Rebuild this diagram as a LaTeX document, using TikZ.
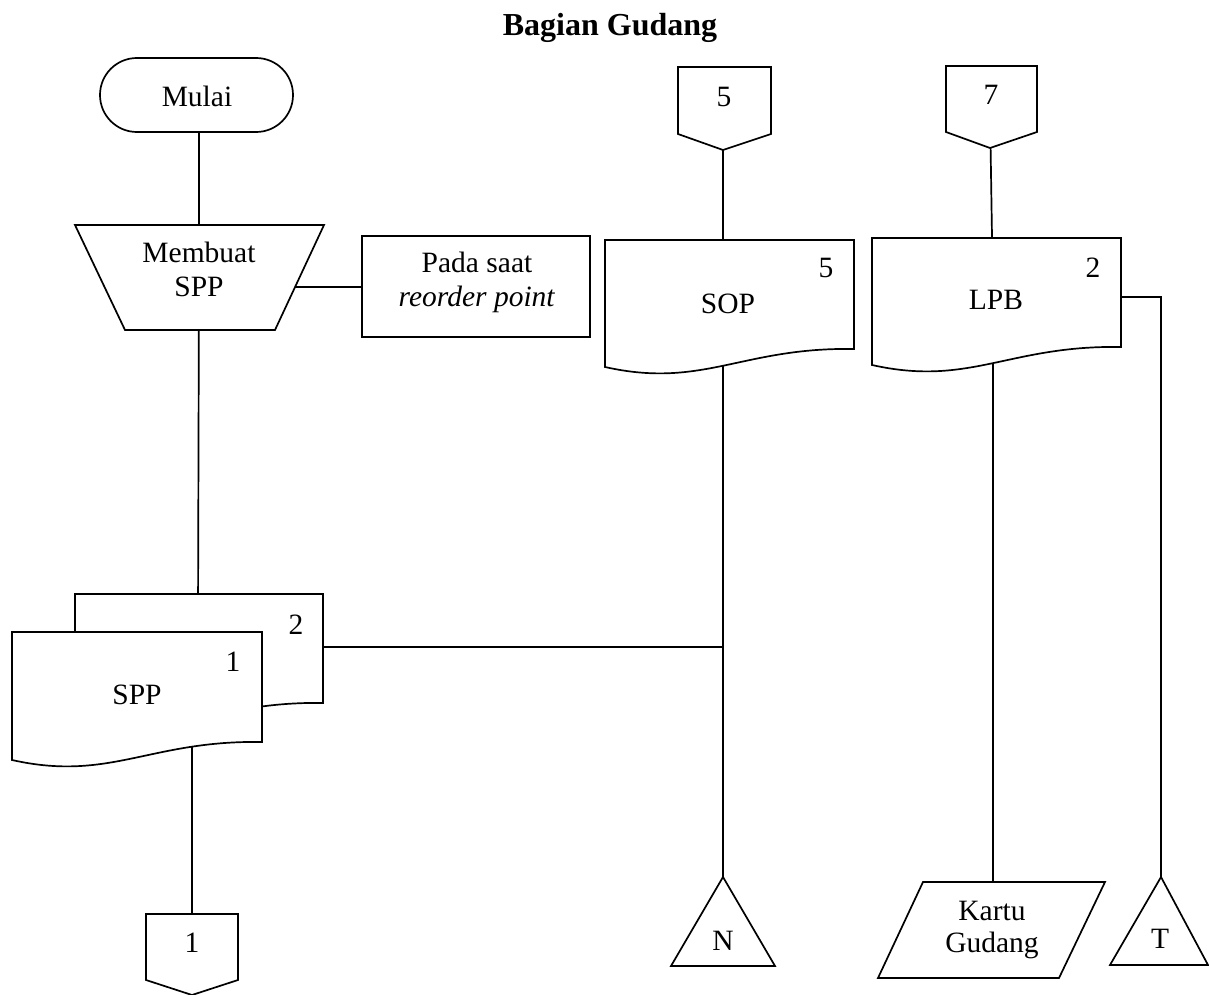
\documentclass[tikz,border=0pt]{standalone}
\usepackage{fontspec}
\setmainfont{Liberation Serif}
\begin{document}
\begin{tikzpicture}[x=1pt,y=-1pt,
  shp/.style={draw=black, fill=white, line width=1.7pt, line join=miter},
  ln/.style={draw=black, line width=1.7pt},
  txt/.style={font=\fontsize{29.5}{34}\selectfont, inner sep=0pt, align=center},
  ttl/.style={font=\fontsize{32}{36}\selectfont\bfseries, inner sep=0pt}]
\useasboundingbox (0,0) rectangle (1209,995);

% ---------- connection points ----------
\coordinate (mulaiIn) at (199,95);
\coordinate (trapIn)  at (199,272);
\coordinate (trapR)   at (250,287);
\coordinate (padaL)   at (362,287);
\coordinate (doc2In)  at (198,620);
\coordinate (doc2R)   at (300,647);
\coordinate (doc1In)  at (192,700);
\coordinate (con1T)   at (192,914);
\coordinate (con5In)  at (723,110);
\coordinate (sopIn)   at (723,300);
\coordinate (junc)    at (723,647);
\coordinate (nApex)   at (723,877);
\coordinate (con7In)  at (990,110);
\coordinate (lpbIn)   at (993,300);
\coordinate (lpbR)    at (1100,297);
\coordinate (tTurn)   at (1161,297);
\coordinate (tApex)   at (1161,877);
\coordinate (kartuT)  at (993,882);

% ---------- connectors (drawn first; shapes are filled white over them) ----------
\draw[ln] (mulaiIn) -- (trapIn);
\draw[ln] (trapR) -- (padaL);
\draw[ln] (trapIn) -- (doc2In);
\draw[ln] (doc2R) -- (junc);
\draw[ln] (doc1In) -- (con1T);
\draw[ln] (con5In) -- (sopIn);
\draw[ln] (sopIn) -- (nApex);
\draw[ln] (con7In) -- (lpbIn);
\draw[ln] (lpbIn) -- (kartuT);
\draw[ln] (lpbR) -- (tTurn) -- (tApex);

% ---------- shapes ----------
% Mulai (terminal)
\draw[shp, rounded corners=36.9pt] (100,58) rectangle (293,132);
% Membuat SPP (manual operation)
\draw[shp] (75,225) -- (324,225) -- (275,330) -- (125,330) -- cycle;
% Pada saat reorder point
\draw[shp] (362,236) rectangle (590,337);
% SPP copy 2 (back)
\draw[shp] (75,594) -- (323,594) -- (323,703)
  .. controls (212,701) and (172,743) .. (75,721) -- cycle;
% SPP copy 1 (front)
\draw[shp] (12,632) -- (262,632) -- (262,742)
  .. controls (150,740) and (110,782) .. (12,760) -- cycle;
% off-page connector 1
\draw[shp] (146,914) -- (238,914) -- (238,980) -- (192,995) -- (146,980) -- cycle;
% off-page connector 5
\draw[shp] (678,67) -- (771,67) -- (771,134) -- (723,150) -- (678,134) -- cycle;
% SOP document
\draw[shp] (605,240) -- (854,240) -- (854,349)
  .. controls (742,347) and (703,389) .. (605,367) -- cycle;
% N triangle
\draw[shp] (nApex) -- (775,966) -- (671,966) -- cycle;
% off-page connector 7
\draw[shp] (946,66) -- (1037,66) -- (1037,132) -- (990,148) -- (946,132) -- cycle;
% LPB document
\draw[shp] (872,238) -- (1121,238) -- (1121,347)
  .. controls (1009,345) and (970,387) .. (872,365) -- cycle;
% Kartu Gudang (parallelogram)
\draw[shp] (923,882) -- (1105,882) -- (1059,978) -- (878,978) -- cycle;
% T triangle
\draw[shp] (tApex) -- (1208,965) -- (1110,965) -- cycle;

% ---------- texts ----------
\node[ttl] (title) at (610,28) {Bagian Gudang};
\node[txt] (mulai) at (197,96) {Mulai};
\node[txt, font=\fontsize{29.5}{34}\selectfont] (membuat) at (199,269) {Membuat\\SPP};
\node[txt, font=\fontsize{29.5}{34}\selectfont] (pada) at (477,282) {Pada saat\\\textit{reorder point}};
\node[txt] (n2a) at (296,625) {2};
\node[txt] (n1a) at (233,662) {1};
\node[txt] (spp) at (137,695) {SPP};
\node[txt] (c1) at (192,943) {1};
\node[txt] (c5) at (724,97) {5};
\node[txt] (n5) at (826,268) {5};
\node[txt] (sop) at (728,304) {SOP};
\node[txt] (nn) at (723,941) {N};
\node[txt] (c7) at (991,95) {7};
\node[txt] (n2b) at (1093,268) {2};
\node[txt] (lpb) at (996,300) {LPB};
\node[txt, font=\fontsize{29.5}{32}\selectfont] (kartu) at (992,930) {Kartu\\Gudang};
\node[txt] (tt) at (1160,939) {T};
\end{tikzpicture}
\end{document}
